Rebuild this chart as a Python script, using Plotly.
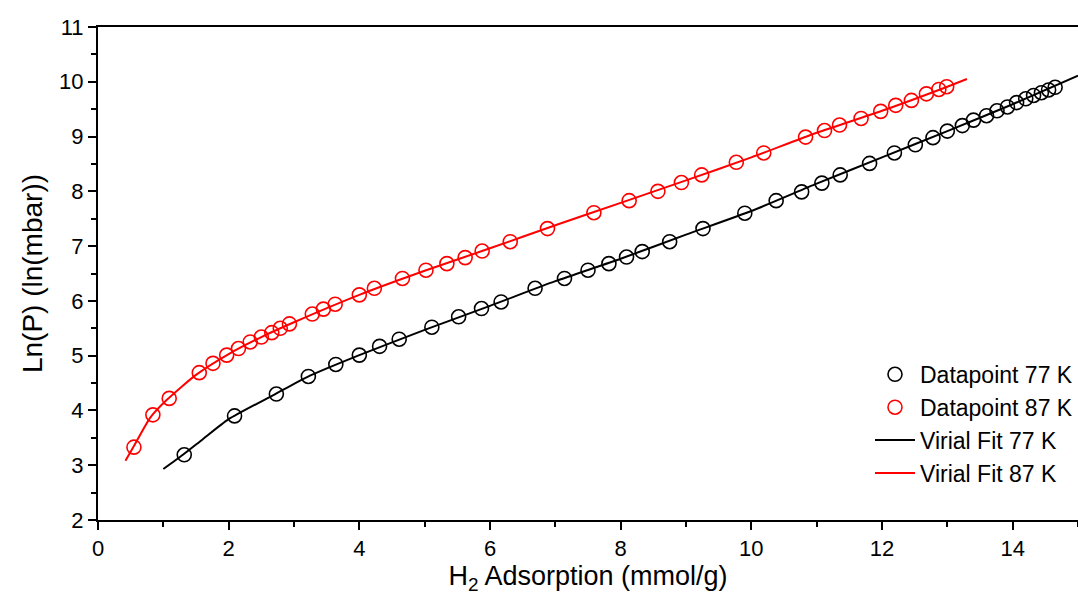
import plotly.graph_objects as go

# Datapoints 77 K
x77 = [1.32, 2.09, 2.73, 3.22, 3.64, 4.00, 4.31, 4.61, 5.11, 5.52, 5.87, 6.17, 6.69, 7.14,
       7.50, 7.82, 8.09, 8.33, 8.75, 9.26, 9.90, 10.38, 10.77, 11.08, 11.36, 11.81, 12.19,
       12.51, 12.78, 13.00, 13.23, 13.40, 13.60, 13.76, 13.92, 14.06, 14.20, 14.32, 14.44,
       14.55, 14.65]
y77 = [3.19, 3.90, 4.30, 4.62, 4.84, 5.01, 5.17, 5.30, 5.52, 5.71, 5.86, 5.98, 6.23, 6.41,
       6.56, 6.68, 6.80, 6.90, 7.08, 7.32, 7.60, 7.83, 7.99, 8.15, 8.30, 8.51, 8.70,
       8.85, 8.98, 9.10, 9.20, 9.30, 9.38, 9.47, 9.54, 9.62, 9.69, 9.75, 9.80,
       9.85, 9.90]

# Datapoints 87 K
x87 = [0.55, 0.84, 1.09, 1.55, 1.76, 1.97, 2.15, 2.33, 2.50, 2.66, 2.79, 2.93, 3.28, 3.45,
       3.63, 4.00, 4.23, 4.66, 5.02, 5.34, 5.62, 5.88, 6.31, 6.88, 7.59, 8.13, 8.57, 8.93,
       9.24, 9.77, 10.19, 10.83, 11.12, 11.35, 11.68, 11.98, 12.21, 12.45, 12.68, 12.87, 12.99]
y87 = [3.33, 3.92, 4.22, 4.69, 4.86, 5.01, 5.13, 5.25, 5.34, 5.42, 5.50, 5.58, 5.76, 5.85,
       5.94, 6.11, 6.23, 6.41, 6.56, 6.68, 6.79, 6.91, 7.08, 7.32, 7.61, 7.83, 8.00, 8.16,
       8.30, 8.53, 8.70, 8.99, 9.11, 9.21, 9.33, 9.46, 9.57, 9.66, 9.78, 9.86, 9.91]

# Virial fit curves
fx77 = [1.0, 1.3, 1.6, 2.0, 2.7, 3.2, 4.0, 5.0, 6.0, 7.0, 8.0, 9.0, 10.0, 11.0, 12.0, 13.0, 14.0, 15.0]
fy77 = [2.93, 3.19, 3.47, 3.84, 4.29, 4.61, 5.01, 5.47, 5.91, 6.36, 6.77, 7.21, 7.64, 8.14, 8.62, 9.10, 9.59, 10.11]
fx87 = [0.42, 0.55, 0.8, 1.05, 1.5, 2.0, 2.5, 3.0, 4.0, 5.0, 6.0, 7.0, 8.0, 9.0, 10.0, 11.0, 12.0, 13.0, 13.3]
fy87 = [3.08, 3.35, 3.87, 4.19, 4.65, 5.03, 5.34, 5.61, 6.11, 6.55, 6.96, 7.38, 7.79, 8.20, 8.62, 9.07, 9.47, 9.91, 10.05]

FONT = "Liberation Sans, Arial, sans-serif"

fig = go.Figure()
fig.add_trace(go.Scatter(x=fx77, y=fy77, mode="lines", name="Virial Fit 77 K",
                         line=dict(color="black", width=2, shape="spline", smoothing=0.6),
                         legendrank=3))
fig.add_trace(go.Scatter(x=fx87, y=fy87, mode="lines", name="Virial Fit 87 K",
                         line=dict(color="#ff0000", width=2, shape="spline", smoothing=0.6),
                         legendrank=4))
fig.add_trace(go.Scatter(x=x77, y=y77, mode="markers", name="Datapoint 77 K",
                         marker=dict(symbol="circle-open", size=14, color="black",
                                     line=dict(width=1.6, color="black")),
                         legendrank=1))
fig.add_trace(go.Scatter(x=x87, y=y87, mode="markers", name="Datapoint 87 K",
                         marker=dict(symbol="circle-open", size=14, color="#ff0000",
                                     line=dict(width=1.6, color="#ff0000")),
                         legendrank=2))

fig.update_layout(
    width=1078, height=601,
    margin=dict(l=98, r=0, t=27, b=81),
    plot_bgcolor="white", paper_bgcolor="white",
    font=dict(family=FONT, color="black"),
    showlegend=True,
    legend=dict(x=1.0, xanchor="right", y=0.195, yanchor="middle",
                bgcolor="rgba(0,0,0,0)", font=dict(size=23, family=FONT),
                tracegroupgap=0, itemwidth=40),
)
fig.update_xaxes(
    range=[0, 15.0], dtick=2, tick0=0, ticks="outside", ticklen=8, tickwidth=1.5,
    tickcolor="black", showline=True, linecolor="black", linewidth=2, mirror=True,
    showgrid=False, zeroline=False,
    tickfont=dict(size=22),
    minor=dict(dtick=1, ticks="outside", ticklen=5, tickwidth=1.5, tickcolor="black"),
    title=dict(text="H<sub>2</sub> Adsorption (mmol/g)", font=dict(size=27), standoff=6),
)
fig.update_yaxes(
    range=[2, 11], dtick=1, tick0=0, ticks="outside", ticklen=8, tickwidth=1.5,
    tickcolor="black", showline=True, linecolor="black", linewidth=2,
    showgrid=False, zeroline=False, tickfont=dict(size=22),
    minor=dict(dtick=0.5, ticks="outside", ticklen=5, tickwidth=1.5, tickcolor="black"),
    title=dict(text="Ln(P) (ln(mbar))", font=dict(size=28), standoff=8),
)

fig.write_html("out.html")
